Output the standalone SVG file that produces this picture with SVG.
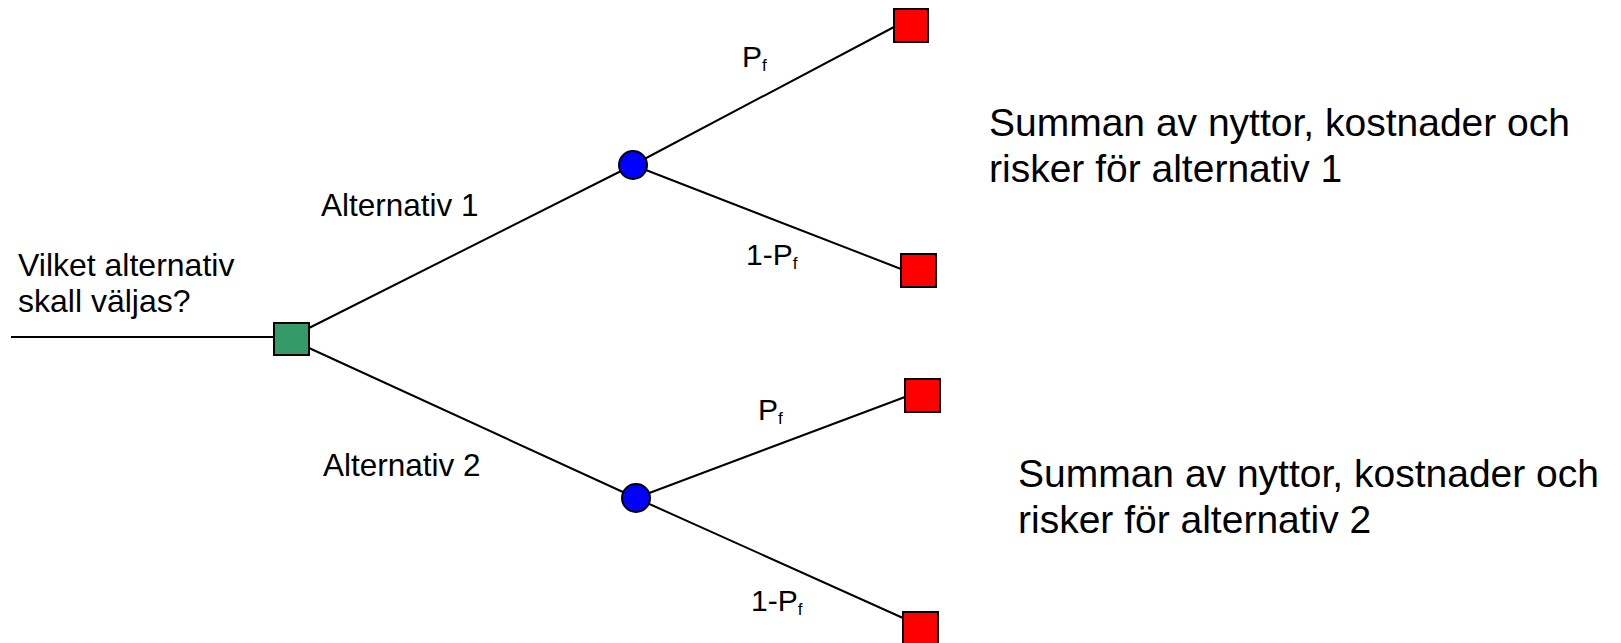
<svg xmlns="http://www.w3.org/2000/svg" width="1621" height="643" viewBox="0 0 1621 643">
  <style>
    .edge { stroke: #000; stroke-width: 2; fill: none; }
    .decision { fill: #339966; stroke: #000; stroke-width: 2; }
    .chance { fill: #0000ff; stroke: #000; stroke-width: 2; }
    .outcome { fill: #ff0000; stroke: #000; stroke-width: 2; }
    text { font-family: "Liberation Sans", Arial, sans-serif; fill: #000; }
    .lbl { font-size: 32px; }
    .alt { font-size: 31.5px; }
    .sum { font-size: 39px; }
    .prob { font-size: 30px; }
    .sub { font-size: 17px; }
  </style>

  <g id="connectors">
    <line class="edge" x1="11" y1="337" x2="274" y2="337"/>
    <line class="edge" x1="309" y1="328" x2="633" y2="165"/>
    <line class="edge" x1="309" y1="348" x2="636" y2="498"/>
    <line class="edge" x1="633" y1="165" x2="894" y2="27"/>
    <line class="edge" x1="633" y1="165" x2="901" y2="269"/>
    <line class="edge" x1="636" y1="498" x2="905" y2="397"/>
    <line class="edge" x1="636" y1="498" x2="903" y2="618"/>
  </g>

  <g id="question">
    <text class="lbl" x="18" y="276">Vilket alternativ</text>
    <text class="lbl" x="18" y="312">skall väljas?</text>
  </g>

  <g id="decision-node">
    <rect class="decision" x="274" y="323" width="35" height="32"/>
  </g>

  <g id="branch-alt1">
    <text class="alt" x="321" y="216">Alternativ 1</text>
  </g>
  <g id="branch-alt2">
    <text class="alt" x="323" y="476">Alternativ 2</text>
  </g>

  <g id="chance-1">
    <circle class="chance" cx="633" cy="165" r="14"/>
  </g>
  <g id="chance-2">
    <circle class="chance" cx="636" cy="498" r="14"/>
  </g>

  <g id="prob-1a">
    <text class="prob" x="742" y="67">P<tspan class="sub" dy="3.5">f</tspan></text>
  </g>
  <g id="prob-1b">
    <text class="prob" x="746" y="265">1-P<tspan class="sub" dy="3.5">f</tspan></text>
  </g>
  <g id="prob-2a">
    <text class="prob" x="758" y="420">P<tspan class="sub" dy="3.5">f</tspan></text>
  </g>
  <g id="prob-2b">
    <text class="prob" x="751" y="611">1-P<tspan class="sub" dy="3.5">f</tspan></text>
  </g>

  <g id="outcome-1a">
    <rect class="outcome" x="894" y="9" width="34" height="33"/>
  </g>
  <g id="outcome-1b">
    <rect class="outcome" x="901" y="254" width="35" height="33"/>
  </g>
  <g id="outcome-2a">
    <rect class="outcome" x="905" y="379" width="35" height="33"/>
  </g>
  <g id="outcome-2b">
    <rect class="outcome" x="903" y="612" width="35" height="33"/>
  </g>

  <g id="summary-1">
    <text class="sum" x="989" y="136">Summan av nyttor, kostnader och</text>
    <text class="sum" x="989" y="182">risker för alternativ 1</text>
  </g>
  <g id="summary-2">
    <text class="sum" x="1018" y="487">Summan av nyttor, kostnader och</text>
    <text class="sum" x="1018" y="533">risker för alternativ 2</text>
  </g>
</svg>
